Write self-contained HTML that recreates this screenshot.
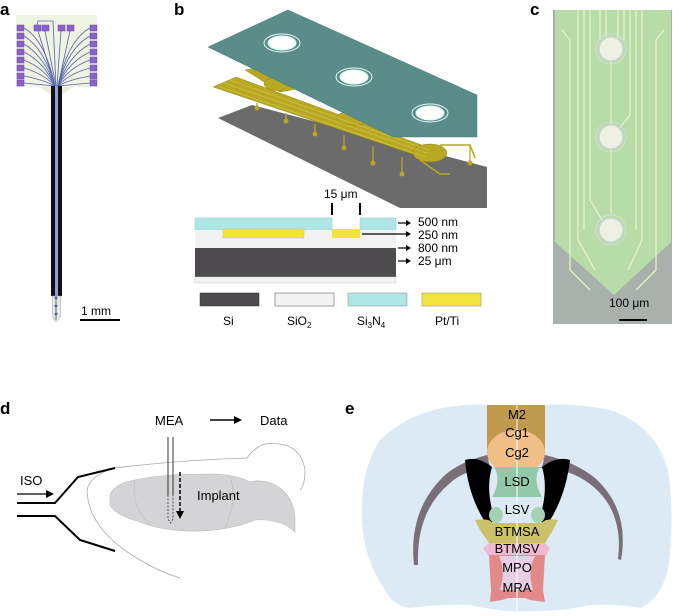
<!DOCTYPE html>
<html><head><meta charset="utf-8"><style>
body{margin:0;background:#fff}
svg{display:block}
text{font-family:"Liberation Sans",Arial,sans-serif}
</style></head><body>
<svg width="675" height="616" viewBox="0 0 675 616" xmlns="http://www.w3.org/2000/svg">
<g font-weight="bold" font-size="17">
<text x="0" y="15">a</text><text x="174" y="15">b</text><text x="530" y="15">c</text>
<text x="0" y="414">d</text><text x="345" y="414">e</text>
</g>
<!-- Panel a -->
<rect x="16" y="15" width="81" height="72" fill="#eef3e2"/>
<polygon points="40,87 73,87 62,95 51,95" fill="#e8eede"/>
<g fill="#8a63c8" stroke="#6a4aa8" stroke-width="0.5">
<rect x="17" y="25" width="7" height="6"/><rect x="17" y="33" width="7" height="6"/><rect x="17" y="41" width="7" height="6"/><rect x="17" y="49" width="7" height="6"/><rect x="17" y="57" width="7" height="6"/><rect x="17" y="65" width="7" height="6"/><rect x="17" y="73" width="7" height="6"/><rect x="17" y="80" width="7" height="6"/>
<rect x="90" y="25" width="7" height="6"/><rect x="90" y="33" width="7" height="6"/><rect x="90" y="41" width="7" height="6"/><rect x="90" y="49" width="7" height="6"/><rect x="90" y="57" width="7" height="6"/><rect x="90" y="65" width="7" height="6"/><rect x="90" y="73" width="7" height="6"/><rect x="90" y="80" width="7" height="6"/>
<rect x="34" y="25" width="7" height="6"/><rect x="42" y="25" width="7" height="6"/><rect x="58" y="25" width="7" height="6"/><rect x="67" y="25" width="7" height="6"/>
</g>
<g stroke="#5566aa" stroke-width="0.8" fill="none">
<path d="M24,28 Q45,40 55,86"/><path d="M24,36 Q44,48 55,86"/><path d="M24,44 Q44,56 55,86"/><path d="M24,52 Q44,62 55,86"/><path d="M24,60 Q44,68 55,86"/><path d="M24,68 Q44,74 55,86"/><path d="M24,76 Q44,80 55,86"/><path d="M24,83 L55,86"/>
<path d="M90,28 Q68,40 58,86"/><path d="M90,36 Q68,48 58,86"/><path d="M90,44 Q68,56 58,86"/><path d="M90,52 Q68,62 58,86"/><path d="M90,60 Q68,68 58,86"/><path d="M90,68 Q68,74 58,86"/><path d="M90,76 Q68,80 58,86"/><path d="M90,83 L58,86"/>
<path d="M38,31 L55,86"/><path d="M45,31 L56,86"/><path d="M61,31 L57,86"/><path d="M70,31 L58,86"/><path d="M37,25 L38,21 L53,21 L56,86"/>
</g>
<rect x="51" y="86" width="11" height="210" fill="#111"/>
<rect x="55" y="86" width="3" height="210" fill="#8fa0d8"/>
<polygon points="52,296 61,296 60,318 56,322 53,318" fill="#e8eede" stroke="#999" stroke-width="0.5"/>
<line x1="56" y1="296" x2="56" y2="320" stroke="#5566aa"/>
<circle cx="56" cy="298" r="1.5" fill="#5566aa"/><circle cx="56" cy="306" r="1.5" fill="#5566aa"/><circle cx="56" cy="314" r="1.5" fill="#5566aa"/>
<text x="81" y="315" font-size="12">1 mm</text>
<line x1="80" y1="320" x2="120" y2="320" stroke="#000" stroke-width="2"/>
<!-- Panel b exploded -->
<polygon points="218,118 252,105 487,167 487,208 400,208" fill="#6b6b6b"/>
<g fill="#b8a822" stroke="#8a7c10" stroke-width="0.4">
<polygon points="213,87 236,77 430,148 424,158"/>
<polygon points="245,70 255,68 290,90 280,92"/>
<ellipse cx="430" cy="153" rx="17" ry="9"/>
<ellipse cx="282" cy="84" rx="18" ry="7"/>
<ellipse cx="354" cy="118" rx="18" ry="7"/>
</g>
<g stroke="#d8c850" stroke-width="0.6">
<line x1="218" y1="86" x2="425" y2="157"/><line x1="224" y1="83" x2="427" y2="153"/><line x1="230" y1="80" x2="429" y2="150"/>
</g>
<g stroke="#b8a822" stroke-width="1.5" fill="none">
<path d="M420,160 L440,174 L450,174"/>
<path d="M440,145 L470,145 L475,158"/>
</g>
<g stroke="#b8a822" stroke-width="1.3" fill="#b8a822">
<line x1="257" y1="103" x2="257" y2="108"/><circle cx="257" cy="108" r="1.8"/>
<line x1="286" y1="113" x2="286" y2="121"/><circle cx="286" cy="121" r="1.8"/>
<line x1="315" y1="124" x2="315" y2="134"/><circle cx="315" cy="134" r="1.8"/>
<line x1="344" y1="135" x2="344" y2="148"/><circle cx="344" cy="148" r="1.8"/>
<line x1="373" y1="146" x2="373" y2="163"/><circle cx="373" cy="163" r="1.8"/>
<line x1="402" y1="157" x2="402" y2="174"/><circle cx="402" cy="174" r="1.8"/>
<line x1="470" y1="145" x2="470" y2="163"/><circle cx="470" cy="163" r="1.8"/>
</g>
<polygon points="208,47 288,10 477,95 477,137 393,137" fill="#5a8c8a" stroke="#4a7a78" stroke-width="0.5"/>
<g fill="#fff" stroke="#cfe" stroke-width="1">
<ellipse cx="282" cy="43" rx="14" ry="7"/><ellipse cx="354" cy="77" rx="14" ry="7"/><ellipse cx="430" cy="113" rx="14" ry="7"/>
</g>
<g fill="none" stroke="#e8f4f4" stroke-width="1">
<ellipse cx="282" cy="43" rx="18" ry="9"/><ellipse cx="354" cy="77" rx="18" ry="9"/><ellipse cx="430" cy="113" rx="18" ry="9"/>
</g>
<!-- cross section -->
<text x="324" y="198" font-size="12">15 μm</text>
<line x1="332" y1="203" x2="332" y2="215" stroke="#000" stroke-width="2"/>
<line x1="360" y1="203" x2="360" y2="215" stroke="#000" stroke-width="2"/>
<rect x="195" y="218" width="137" height="12" fill="#aee6e6" stroke="#9cc" stroke-width="0.5"/>
<rect x="360" y="218" width="36" height="12" fill="#aee6e6" stroke="#9cc" stroke-width="0.5"/>
<rect x="195" y="230" width="201" height="18" fill="#f2f2f2"/>
<rect x="223" y="229" width="81" height="9" fill="#f2e43c" stroke="#bba" stroke-width="0.5"/>
<rect x="332" y="229" width="28" height="9" fill="#f2e43c"/>
<rect x="195" y="248" width="201" height="29" fill="#4d4b4d"/>
<rect x="195" y="277" width="201" height="6" fill="#f2f2f2" stroke="#ccc" stroke-width="0.5"/>
<g stroke="#000" stroke-width="1.2">
<line x1="398" y1="223" x2="408" y2="223"/><line x1="362" y1="234" x2="408" y2="234"/><line x1="398" y1="248" x2="408" y2="248"/><line x1="398" y1="261" x2="408" y2="261"/>
</g>
<g fill="#000"><polygon points="411,223 406,220 406,226"/><polygon points="411,234 406,231 406,237"/><polygon points="411,248 406,245 406,251"/><polygon points="411,261 406,258 406,264"/></g>
<g font-size="12"><text x="418" y="226">500 nm</text><text x="418" y="239">250 nm</text><text x="418" y="252">800 nm</text><text x="418" y="265">25 μm</text></g>
<rect x="200" y="293" width="59" height="13" fill="#4d4b4d" stroke="#333" stroke-width="0.5"/>
<rect x="275" y="293" width="59" height="13" fill="#f2f2f2" stroke="#888" stroke-width="0.8"/>
<rect x="348" y="293" width="59" height="13" fill="#aee6e6" stroke="#888" stroke-width="0.5"/>
<rect x="422" y="293" width="59" height="13" fill="#f2e43c" stroke="#888" stroke-width="0.5"/>
<g font-size="12"><text x="223" y="325">Si</text><text x="287" y="325">SiO<tspan font-size="8" dy="3">2</tspan></text><text x="357" y="325">Si<tspan font-size="8" dy="3">3</tspan><tspan dy="-3">N</tspan><tspan font-size="8" dy="3">4</tspan></text><text x="435" y="325">Pt/Ti</text></g>
<!-- Panel c -->
<rect x="553" y="10" width="119" height="314" fill="#a9b1ad"/>
<polygon points="555,10 671,10 671,242 614,295 555,242" fill="#b8dca8"/>
<g stroke="#e6f2c8" stroke-width="1.3" fill="none">
<path d="M600,10 V40"/><path d="M606,10 V38"/><path d="M618,10 V38"/><path d="M624,10 V40"/><path d="M630,10 V115 L614,135"/>
<path d="M590,10 V200 L605,225"/><path d="M584,10 V230"/><path d="M578,10 V240 L595,270"/><path d="M636,10 V230"/><path d="M642,10 V240 L628,270"/>
<path d="M611,150 V215"/><path d="M611,62 V125"/>
<path d="M562,30 L570,40 V270 L590,290"/><path d="M664,30 L656,40 V270 L636,290"/>
</g>
<g fill="#eef0e4" stroke="#c8d8d0" stroke-width="1.5">
<circle cx="611" cy="49" r="12"/><circle cx="611" cy="137" r="12"/><circle cx="611" cy="230" r="12"/>
</g>
<g fill="none" stroke="#d4dcd8" stroke-width="1">
<circle cx="611" cy="49" r="15"/><circle cx="611" cy="137" r="15"/><circle cx="611" cy="230" r="15"/>
</g>
<text x="609" y="307" font-size="12">100 μm</text>
<line x1="619" y1="320" x2="647" y2="320" stroke="#000" stroke-width="2"/>
<!-- Panel d -->
<text x="155" y="425" font-size="13">MEA</text>
<line x1="210" y1="420" x2="236" y2="420" stroke="#000" stroke-width="1.5"/><polygon points="242,420 234,416 234,424"/>
<text x="260" y="425" font-size="13">Data</text>
<path d="M87,490 Q90,475 115,468 Q180,460 247,458 Q255,447 265,444 Q300,440 305,470 Q305,485 300,490" fill="none" stroke="#aaa" stroke-width="0.8"/>
<path d="M87,490 Q88,530 140,560 Q160,572 180,578" fill="none" stroke="#aaa" stroke-width="0.8"/>
<path d="M110,495 Q115,483 135,480 Q160,474 210,474 Q235,474 250,482 Q265,478 280,488 Q295,500 295,520 L295,532 Q280,518 255,520 Q230,530 200,531 Q165,532 140,522 Q115,515 110,505 Z" fill="#d4d4d6" stroke="#bbb" stroke-width="0.6"/>
<path d="M135,480 Q130,505 150,525" fill="none" stroke="#bbb" stroke-width="0.6"/>
<path d="M230,476 Q238,500 225,528" fill="none" stroke="#bbb" stroke-width="0.6"/>
<text x="197" y="500" font-size="13">Implant</text>
<line x1="168" y1="437" x2="168" y2="495" stroke="#333" stroke-width="1"/><line x1="173" y1="437" x2="173" y2="495" stroke="#333" stroke-width="1"/>
<path d="M168,495 V519 L170.5,523 L173,519 V495" fill="none" stroke="#333" stroke-width="0.8" stroke-dasharray="2,1.5"/>
<line x1="180" y1="472" x2="180" y2="512" stroke="#000" stroke-width="1.5" stroke-dasharray="4,2"/><polygon points="180,519 176,511 184,511"/>
<text x="20" y="485" font-size="13">ISO</text>
<line x1="17" y1="494" x2="48" y2="494" stroke="#000" stroke-width="1.3"/><polygon points="54,494 46,490 46,498"/>
<polyline points="17,503 55,503 78,477 115,468" fill="none" stroke="#000" stroke-width="2"/>
<polyline points="17,516 55,516 80,540 115,551" fill="none" stroke="#000" stroke-width="2"/>
<!-- Panel e -->
<path d="M487,405 Q420,402 380,440 Q360,470 362,520 Q364,560 385,590 Q392,605 410,608 Q440,604 470,605 Q500,612 520,611 Q560,612 590,605 Q620,604 640,608 Q660,600 668,570 Q675,520 668,470 Q655,425 610,410 Q575,403 545,405 Z" fill="#dbeaf5"/>
<polygon points="487,405 545,405 545,460 487,460" fill="#bf9a4f"/>
<ellipse cx="516" cy="452" rx="29" ry="22" fill="#f0be86"/>
<path d="M414,565 Q408,510 445,475 Q460,462 487,455 L490,467 Q500,470 516,470 Q532,470 542,467 L545,455 Q575,462 595,478 Q630,510 621,560 L618,559 Q624,510 590,484 Q570,469 545,468 L487,468 Q462,471 449,484 Q416,512 418,565 Z" fill="#7a6e7a"/>
<path d="M465,460 Q478,456 492,467 Q485,490 495,520 Q490,525 485,522 Q468,495 465,460 Z" fill="#000"/>
<path d="M570,460 Q557,456 542,467 Q549,490 539,520 Q544,525 549,522 Q566,495 570,460 Z" fill="#000"/>
<path d="M494,467 L540,467 Q532,480 542,497 L492,497 Q502,480 494,467 Z" fill="#92c9a8"/>
<ellipse cx="496" cy="515" rx="7" ry="8" fill="#a6d1b2"/><ellipse cx="538" cy="515" rx="7" ry="8" fill="#a6d1b2"/>
<path d="M475,520 Q490,518 492,523 L542,523 Q545,518 558,520 L553,530 L545,543 L489,543 L480,530 Z" fill="#c9c26a"/>
<polygon points="483,548 489,543 545,543 550,548 545,557 489,557" fill="#efb9d4"/>
<path d="M489,555 L545,555 L543,590 L545,602 L530,600 L525,598 L508,598 L502,600 L490,602 L491,590 Z" fill="#e28a8a"/>
<path d="M499,556 Q506,570 500,590 L533,590 Q527,570 535,556 Z" fill="#e8cde6"/>
<line x1="517" y1="405" x2="517" y2="610" stroke="#fff" stroke-width="1"/>
<g font-size="13" text-anchor="middle">
<text x="517" y="419">M2</text><text x="517" y="437">Cg1</text><text x="517" y="457">Cg2</text>
<text x="517" y="486">LSD</text><text x="517" y="514">LSV</text><text x="517" y="536">BTMSA</text>
<text x="517" y="553">BTMSV</text><text x="517" y="572">MPO</text><text x="517" y="592">MRA</text>
</g>
</svg>
</body></html>
